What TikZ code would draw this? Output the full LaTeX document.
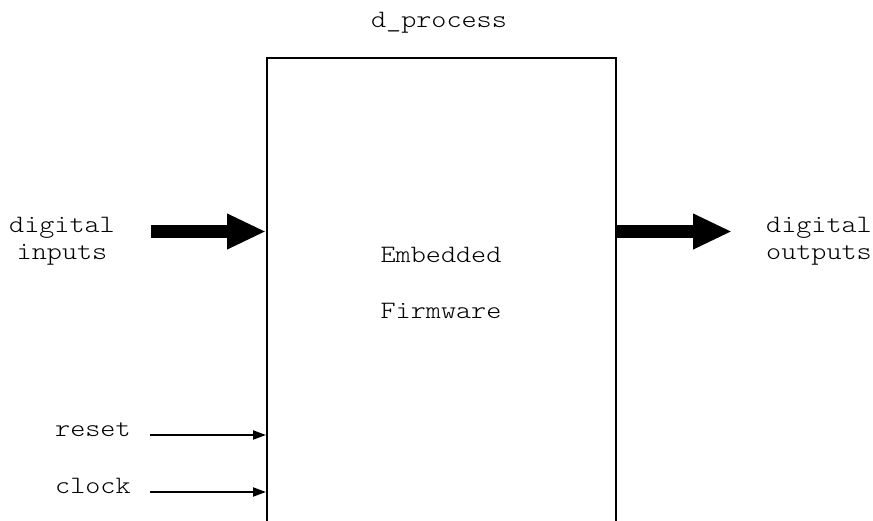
\documentclass[tikz,border=0pt]{standalone}
\usepackage{fontspec}
\newfontfamily\diagmono{Latin Modern Mono Light}[FakeStretch=1.15]
\usetikzlibrary{arrows.meta}
\begin{document}
\begin{tikzpicture}[x=1pt,y=-1pt,
  lbl/.style={font=\diagmono\fontsize{25}{26}\selectfont, inner sep=0pt, anchor=base},
  busarrow/.style={line width=13pt, -{Triangle[length=39pt,width=33pt]}},
  sigarrow/.style={line width=2pt, -{Triangle[length=13pt,width=9pt]}}]
\useasboundingbox (0,0) rectangle (873,520);
\fill[white] (0,0) rectangle (873,520);
\node[draw, line width=1.8pt, anchor=north west, minimum width=349pt, minimum height=490pt, inner sep=0pt] (box) at (266,57) {};
\node[lbl] (title) at (439,27) {d\_process};
\node[lbl] (emb) at (441,262) {Embedded};
\node[lbl] (firm) at (441,318) {Firmware};
\node[lbl] (in1) at (62,232) {digital};
\node[lbl] (in2) at (62,259) {inputs};
\node[lbl] (out1) at (819,232) {digital};
\node[lbl] (out2) at (819,259) {outputs};
\node[lbl, anchor=base west] (rst) at (55,436) {reset};
\node[lbl, anchor=base west] (clk) at (55,493) {clock};
\coordinate (inL) at (151,231.5);
\coordinate (outR) at (732,231.5);
\coordinate (rstL) at (150,435);
\coordinate (clkL) at (150,492);
\draw[busarrow] (inL) -- (inL -| box.west);
\draw[busarrow] (outR -| box.east) -- (outR);
\draw[sigarrow] (rstL) -- (rstL -| box.west);
\draw[sigarrow] (clkL) -- (clkL -| box.west);
\end{tikzpicture}
\end{document}
